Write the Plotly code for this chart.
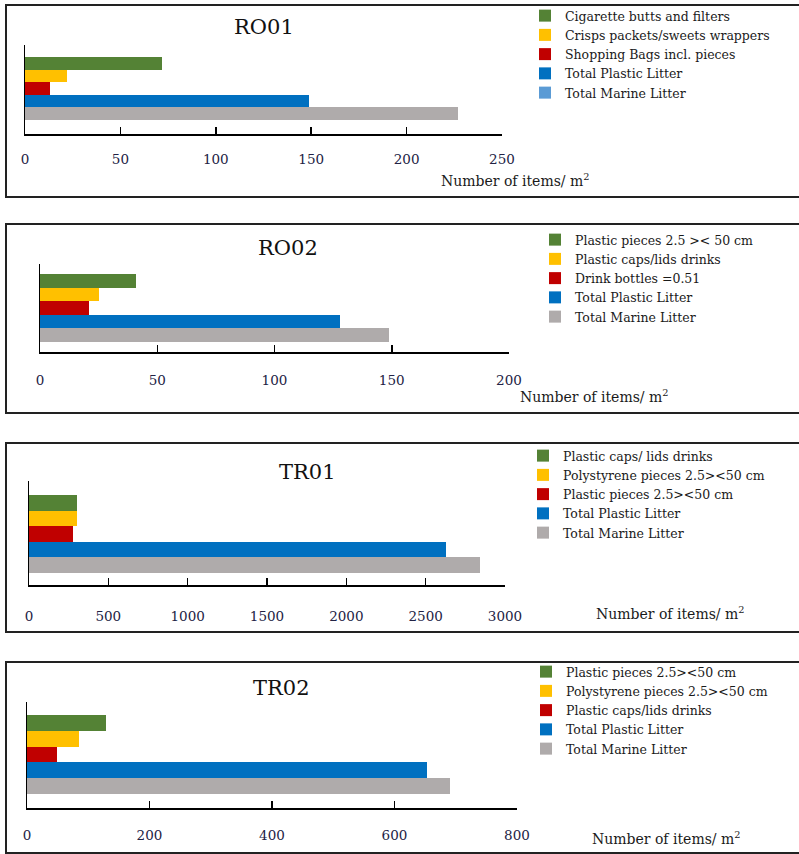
import plotly.graph_objects as go

W, H = 799, 854
FONT = "DejaVu Serif"

colors = ["#548235", "#FFC000", "#C00000", "#0070C0", "#AFABAB"]
legend_marine_ro01 = "#5B9BD5"

titles = ["RO01", "RO02", "TR01", "TR02"]

ro01_labels = ["Cigarette butts and filters", "Crisps packets/sweets wrappers",
               "Shopping Bags incl. pieces", "Total Plastic Litter", "Total Marine Litter"]
ro01_values = [72, 22, 13, 149, 227]

ro02_labels = ["Plastic pieces 2.5 &gt;&lt; 50 cm", "Plastic caps/lids drinks",
               "Drink bottles =0.51", "Total Plastic Litter", "Total Marine Litter"]
ro02_values = [41, 25, 21, 128, 149]

tr01_labels = ["Plastic caps/ lids drinks", "Polystyrene pieces 2.5&gt;&lt;50 cm",
               "Plastic pieces 2.5&gt;&lt;50 cm", "Total Plastic Litter", "Total Marine Litter"]
tr01_values = [302, 300, 277, 2627, 2843]

tr02_labels = ["Plastic pieces 2.5&gt;&lt;50 cm", "Polystyrene pieces 2.5&gt;&lt;50 cm",
               "Plastic caps/lids drinks", "Total Plastic Litter", "Total Marine Litter"]
tr02_values = [129, 85, 49, 653, 690]

x_ranges = [[0, 250], [0, 200], [0, 3000], [0, 800]]
x_dticks = [50, 50, 500, 200]

labels_all = [ro01_labels, ro02_labels, tr01_labels, tr02_labels]
values_all = [ro01_values, ro02_values, tr01_values, tr02_values]

# layout geometry in pixels
panels = [
    dict(ax=(25, 502), ay=(45, 134), yr=[5.61, -1.45], title=(264, 27), atitle=(515, 180),
         leg=(525, 1), box=(6, 5, 805, 197), stand=12),
    dict(ax=(40, 509), ay=(264, 352), yr=[5.24, -1.24], title=(288, 248), atitle=(594, 396),
         leg=(535, 225), box=(6, 224, 805, 413), stand=15),
    dict(ax=(29, 505), ay=(481, 585), yr=[5.27, -1.40], title=(307, 472), atitle=(670, 613),
         leg=(523, 441), box=(6, 443, 805, 632), stand=18),
    dict(ax=(27, 517), ay=(702, 808), yr=[5.39, -1.32], title=(281, 688), atitle=(666, 838),
         leg=(526, 657), box=(6, 662, 805, 853), stand=14),
]

def px(x):
    return x / W

def py(y):
    return 1 - y / H

fig = go.Figure()
layout = dict(width=W, height=H, margin=dict(l=0, r=0, t=0, b=0, autoexpand=False),
              paper_bgcolor="white", plot_bgcolor="white",
              barmode="overlay", bargap=0, showlegend=True,
              font=dict(family=FONT, color="#111"))
annotations = []
shapes = []

for i, (labels, values) in enumerate(zip(labels_all, values_all)):
    n = "" if i == 0 else str(i + 1)
    p = panels[i]
    legname = "legend" + n
    for j, (lab, val) in enumerate(zip(labels, values)):
        hide = (i == 0 and j == 4)
        fig.add_trace(go.Bar(
            x=[val], y=[lab], orientation="h", name=lab,
            marker=dict(color=colors[j], line=dict(width=0)),
            xaxis="x" + n, yaxis="y" + n, legend=legname,
            showlegend=not hide, width=1,
        ))
        if hide:
            fig.add_trace(go.Bar(
                x=[None], y=[None], orientation="h", name=lab,
                marker=dict(color=legend_marine_ro01, line=dict(width=0)),
                xaxis="x" + n, yaxis="y" + n, legend=legname,
            ))
    layout["xaxis" + n] = dict(
        domain=[px(p["ax"][0]), px(p["ax"][1])], anchor="y" + n,
        range=x_ranges[i], dtick=x_dticks[i], tick0=0,
        showline=True, linecolor="black", linewidth=1.5,
        ticks="inside", ticklen=7, tickwidth=1.5, tickcolor="black",
        showgrid=False, zeroline=False, fixedrange=True,
        tickfont=dict(family=FONT, size=13.5, color="#222244"),
        ticklabelstandoff=p["stand"],
    )
    layout["yaxis" + n] = dict(
        domain=[py(p["ay"][1]), py(p["ay"][0])], anchor="x" + n,
        type="category", categoryorder="array", categoryarray=labels,
        range=p["yr"], showline=True, linecolor="black", linewidth=1.5,
        showticklabels=False, ticks="", showgrid=False, zeroline=False, fixedrange=True,
    )
    layout[legname] = dict(
        x=px(p["leg"][0]), y=py(p["leg"][1]), xanchor="left", yanchor="top",
        bgcolor="rgba(0,0,0,0)", borderwidth=0,
        font=dict(family=FONT, size=12.5, color="#1a1a1a"),
        traceorder="normal", itemclick=False, itemdoubleclick=False,
    )
    annotations.append(dict(
        text=titles[i], x=px(p["title"][0]), y=py(p["title"][1]),
        xref="paper", yref="paper", showarrow=False, xanchor="center", yanchor="middle",
        font=dict(family=FONT, size=21, color="#111"),
    ))
    annotations.append(dict(
        text="Number of items/ m<sup>2</sup>", x=px(p["atitle"][0]), y=py(p["atitle"][1]),
        xref="paper", yref="paper", showarrow=False, xanchor="center", yanchor="middle",
        font=dict(family=FONT, size=14, color="#1a1a1a"),
    ))
    bx0, by0, bx1, by1 = p["box"]
    shapes.append(dict(type="rect", xref="paper", yref="paper",
                       x0=px(bx0), x1=px(bx1), y0=py(by1), y1=py(by0),
                       line=dict(color="#222", width=2), fillcolor="rgba(0,0,0,0)", layer="below"))

layout["annotations"] = annotations
layout["shapes"] = shapes
fig.update_layout(**layout)
fig.write_html("out.html", config={"displayModeBar": False, "staticPlot": True},
               post_script="document.body.style.margin='0px';document.body.style.overflow='hidden';")
